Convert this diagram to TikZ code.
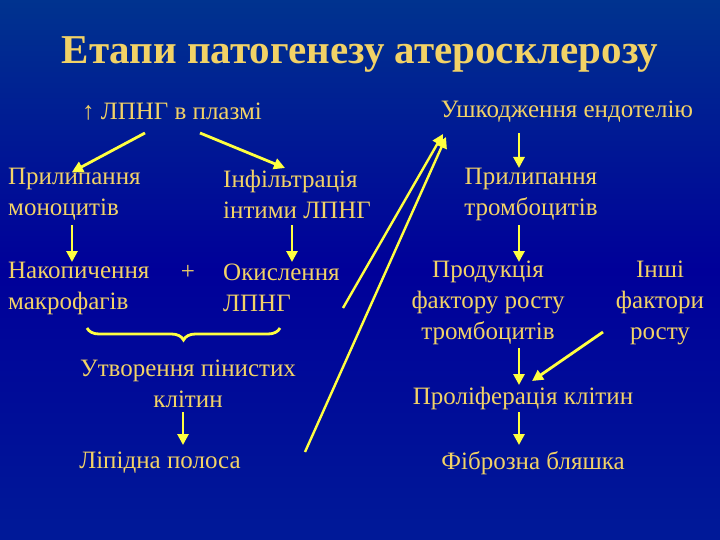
\documentclass[tikz,border=0pt]{standalone}
\usepackage{fontspec}
\setmainfont{Liberation Serif}
\usetikzlibrary{arrows.meta,decorations.pathreplacing,shadows}
\definecolor{txt}{HTML}{F2D266}
\definecolor{arr}{HTML}{FFFF40}
\begin{document}
\begin{tikzpicture}[x=1pt,y=-1pt,
  lbl/.style={text=txt,font=\fontsize{25}{31}\selectfont,inner sep=0pt},
  ar/.style={draw=arr,line width=2.8pt,-{Triangle[length=11pt,width=11pt]}}]
\shade[top color=black!55!blue!80!cyan,bottom color=blue!55!black!90!cyan,middle color=blue!60!black] (0,0) rectangle (720,540);
\useasboundingbox (0,0) rectangle (720,540);
\node[lbl,font=\fontsize{41}{44}\selectfont\bfseries] (t) at (360,55) {Етапи патогенезу атеросклерозу};
\node[lbl] (a) at (172,112) {↑ ЛПНГ в плазмі};
\node[lbl] (u) at (567,112) {Ушкодження ендотелію};
\node[lbl,anchor=west,align=left] (pm) at (8,194) {Прилипання\\моноцитів};
\node[lbl,anchor=west,align=left] (ii) at (223,194) {Інфільтрація\\інтими ЛПНГ};
\node[lbl,anchor=west,align=left] (nm) at (8,288) {Накопичення\\макрофагів};
\node[lbl] (plus) at (188,272) {+};
\node[lbl,anchor=west,align=left] (ok) at (223,288) {Окислення\\ЛПНГ};
\node[lbl,align=center] (up) at (188,384) {Утворення пінистих\\клітин};
\node[lbl] (lp) at (160,463) {Ліпідна полоса};
\node[lbl,align=center] (pt) at (531,194) {Прилипання\\тромбоцитів};
\node[lbl,align=center] (pf) at (488,303) {Продукція\\фактору росту\\тромбоцитів};
\node[lbl,align=center] (in) at (660,303) {Інші\\фактори\\росту};
\node[lbl] (pk) at (523,398) {Проліферація клітин};
\node[lbl] (fb) at (533,463) {Фіброзна бляшка};
\coordinate (s1) at (145,133); \coordinate (e1) at (72,172);
\coordinate (s2) at (200,133); \coordinate (e2) at (285,168);
\draw[ar] (s1) -- (e1);
\draw[ar] (s2) -- (e2);
\draw[ar] (72,225) -- (72,262);
\draw[ar] (292,225) -- (292,262);
\draw[draw=arr,line width=2.8pt,decorate,decoration={brace,mirror,amplitude=12pt}] (87,328) -- (280,328);
\draw[ar] (183,412) -- (183,445);
\draw[ar] (519,133) -- (519,168);
\draw[ar] (519,225) -- (519,262);
\draw[ar] (519,348) -- (519,385);
\draw[ar] (603,332) -- (532,381);
\draw[ar] (519,412) -- (519,445);
\coordinate (l1) at (343,308); \coordinate (h1) at (443,134);
\coordinate (l2) at (305,452); \coordinate (h2) at (446,137);
\draw[ar,line width=2.4pt] (l1) -- (h1);
\draw[ar,line width=2.4pt] (l2) -- (h2);
\end{tikzpicture}
\end{document}
